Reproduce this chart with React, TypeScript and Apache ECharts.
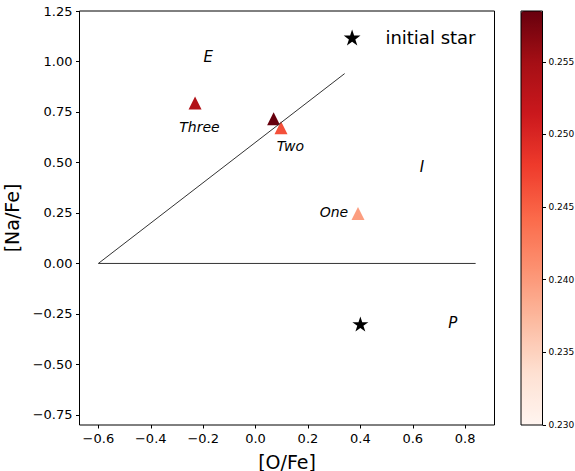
import React, { useEffect, useRef } from "react";
import * as echarts from "echarts";

// ---- data ----
const xTicks = [-0.6, -0.4, -0.2, 0.0, 0.2, 0.4, 0.6, 0.8];
const yTicks = [-0.75, -0.5, -0.25, 0.0, 0.25, 0.5, 0.75, 1.0, 1.25];
const cbTicks = [0.23, 0.235, 0.24, 0.245, 0.25, 0.255];

const triX = [-0.231, 0.069, 0.097, 0.391];
const triY = [0.795, 0.717, 0.672, 0.247];
const triC = [0.2537, 0.2585, 0.2462, 0.2397];

const starX = [0.4];
const starY = [-0.3];

const lineX = [0.34, -0.6, 0.84];
const lineY = [0.94, 0.0, 0.0];

const regionNames = ["E", "I", "P"];
const regionX = [-0.181, 0.635, 0.753];
const regionY = [1.023, 0.48, -0.296];

const pointNames = ["Three", "Two", "One"];
const pointX = [-0.214, 0.133, 0.299];
const pointY = [0.677, 0.58, 0.257];

const cMin = 0.23;
const cMax = 0.2585;
const xMin = -0.672;
const xMax = 0.912;
const yMin = -0.8;
const yMax = 1.25;

const reds = ["#fff5f0", "#fee0d2", "#fcbba1", "#fc9272", "#fb6a4a", "#ef3b2c", "#cb181d", "#a50f15", "#67000d"];

const starPath =
  "path://M50 0 L61.23 34.55 L97.55 34.55 L68.17 55.9 L79.39 90.45 L50 69.1 L20.61 90.45 L31.83 55.9 L2.45 34.55 L38.77 34.55 Z";

const FONT = "DejaVu Sans";
const minus = (s: string) => s.replace("-", "\u2212");

export default function App() {
  const ref = useRef<HTMLDivElement>(null);
  useEffect(() => {
    if (!ref.current) return;
    const chart = echarts.init(ref.current, undefined, { renderer: "svg" });
    const option: any = {
      animation: false,
      backgroundColor: "#ffffff",
      textStyle: { fontFamily: FONT },
      grid: [
        {
          left: 79.5, top: 11, width: 415, height: 414, show: true, borderColor: "#000", borderWidth: 1,
          backgroundColor: "transparent", containLabel: false, outerBoundsMode: "none",
        },
        {
          left: 521, top: 11, width: 21.5, height: 414, show: true, borderColor: "#000", borderWidth: 1, z: 10,
          backgroundColor: "transparent", containLabel: false, outerBoundsMode: "none",
        },
      ],
      xAxis: [
        {
          type: "value",
          gridIndex: 0,
          min: xMin,
          max: xMax,
          name: "[O/Fe]",
          nameLocation: "middle",
          nameGap: 27,
          nameTextStyle: { fontSize: 19, color: "#000", fontFamily: FONT },
          axisLine: { show: false, onZero: false },
          splitLine: { show: false },
          axisTick: { show: true, length: 3.5, customValues: xTicks, lineStyle: { color: "#000", width: 1 } },
          axisLabel: {
            customValues: xTicks,
            fontSize: 13,
            color: "#000",
            margin: 7,
            fontFamily: FONT,
            formatter: (v: number) => minus(v.toFixed(1)),
          },
        },
        { type: "value", gridIndex: 1, min: 0, max: 1, show: false, axisLine: { onZero: false } },
      ],
      yAxis: [
        {
          type: "value",
          gridIndex: 0,
          min: yMin,
          max: yMax,
          name: "[Na/Fe]",
          nameLocation: "middle",
          nameGap: 47,
          nameTextStyle: { fontSize: 19, color: "#000", fontFamily: FONT },
          axisLine: { show: false, onZero: false },
          splitLine: { show: false },
          axisTick: { show: true, length: 3.5, customValues: yTicks, lineStyle: { color: "#000", width: 1 } },
          axisLabel: {
            customValues: yTicks,
            fontSize: 13,
            color: "#000",
            margin: 7,
            fontFamily: FONT,
            formatter: (v: number) => minus(v.toFixed(2)),
          },
        },
        {
          type: "value",
          gridIndex: 1,
          position: "right",
          min: cMin,
          max: cMax,
          z: 10,
          axisLine: { show: false, onZero: false },
          splitLine: { show: false },
          axisTick: { show: true, length: 3.5, customValues: cbTicks, lineStyle: { color: "#000", width: 1 } },
          axisLabel: {
            customValues: cbTicks,
            fontSize: 9,
            color: "#000",
            margin: 6,
            fontFamily: FONT,
            formatter: (v: number) => v.toFixed(3),
          },
        },
      ],
      visualMap: {
        type: "continuous",
        min: cMin,
        max: cMax,
        dimension: 2,
        seriesIndex: 1,
        orient: "vertical",
        left: 521,
        top: 11,
        itemWidth: 21.5,
        itemHeight: 414,
        padding: 0,
        calculable: false,
        realtime: false,
        text: null,
        showLabel: false,
        inRange: { color: reds, opacity: 1 },
      },
      legend: {
        data: ["initial star"],
        left: 343.7,
        top: 28.5,
        padding: 0,
        itemWidth: 56.6,
        itemHeight: 16,
        symbolKeepAspect: true,
        selectedMode: false,
        itemStyle: { opacity: 1 },
        textStyle: { fontSize: 18, color: "#000", fontFamily: FONT },
      },
      series: [
        {
          type: "line",
          name: "lines",
          xAxisIndex: 0,
          yAxisIndex: 0,
          data: lineX.map((x, i) => [x, lineY[i]]),
          showSymbol: false,
          symbol: "none",
          lineStyle: { color: "#333", width: 1 },
          silent: true,
        },
        {
          type: "scatter",
          name: "points",
          xAxisIndex: 0,
          yAxisIndex: 0,
          symbol: "triangle",
          symbolSize: 13,
          itemStyle: { opacity: 1 },
          data: triX.map((x, i) => [x, triY[i], triC[i]]),
          silent: true,
        },
        {
          type: "scatter",
          name: "initial star",
          xAxisIndex: 0,
          yAxisIndex: 0,
          symbol: starPath,
          symbolSize: [16, 15.2],
          itemStyle: { color: "#000", opacity: 1 },
          data: starX.map((x, i) => [x, starY[i]]),
          silent: true,
        },
        {
          type: "scatter",
          name: "regions",
          xAxisIndex: 0,
          yAxisIndex: 0,
          symbolSize: 1,
          itemStyle: { color: "transparent", opacity: 1 },
          data: regionX.map((x, i) => ({ value: [x, regionY[i]], name: regionNames[i] })),
          label: {
            show: true,
            position: "inside",
            formatter: (p: any) => p.name,
            fontSize: 15,
            fontStyle: "italic",
            color: "#000",
            fontFamily: FONT,
          },
          silent: true,
        },
        {
          type: "scatter",
          name: "pointLabels",
          xAxisIndex: 0,
          yAxisIndex: 0,
          symbolSize: 1,
          itemStyle: { color: "transparent", opacity: 1 },
          data: pointX.map((x, i) => ({ value: [x, pointY[i]], name: pointNames[i] })),
          label: {
            show: true,
            position: "inside",
            formatter: (p: any) => p.name,
            fontSize: 14,
            fontStyle: "italic",
            color: "#000",
            fontFamily: FONT,
          },
          silent: true,
        },
      ],
    };
    chart.setOption(option);
    return () => chart.dispose();
  }, []);
  return <div ref={ref} style={{ position: "fixed", left: 0, top: 0, width: 575, height: 471 }} />;
}
